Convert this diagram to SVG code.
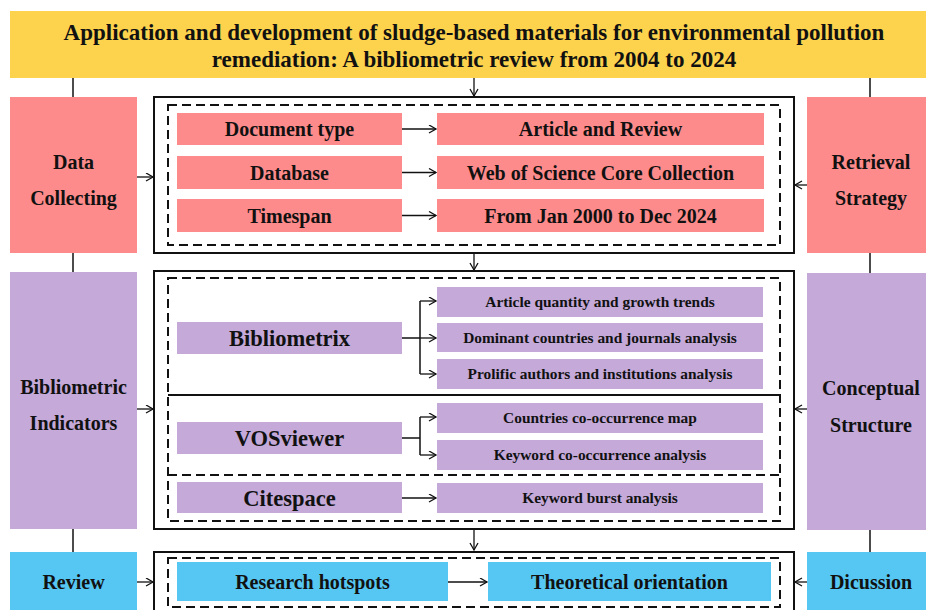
<svg xmlns="http://www.w3.org/2000/svg" width="926" height="610" viewBox="0 0 926 610">
<style>
text{font-family:"Liberation Serif","Times New Roman",serif;font-weight:bold;fill:#111;text-anchor:middle}
.t{font-size:23px}
.m{font-size:20px}
.b{font-size:22.5px}
.s{font-size:15.4px}
.red{fill:#FE8B8B}
.pur{fill:#C4A9D9}
.blu{fill:#56C7F2}
.frame{fill:none;stroke:#111;stroke-width:2}
.dash{fill:none;stroke:#111;stroke-width:2;stroke-dasharray:9 5}
.ln{fill:none;stroke:#111;stroke-width:1.5}
.ar{fill:none;stroke:#111;stroke-width:1.3;marker-end:url(#ah)}
</style>
<defs>
<marker id="ah" markerUnits="userSpaceOnUse" markerWidth="10" markerHeight="10" refX="8" refY="4.5" orient="auto">
<path d="M1,0.5 L8,4.5 L1,8.5" fill="none" stroke="#111" stroke-width="1.3"/>
</marker>
</defs>
<rect width="926" height="610" fill="#fff"/>
<g id="connectors">
<line class="ln" x1="73" y1="78" x2="73" y2="610"/>
<line class="ln" x1="870" y1="78" x2="870" y2="610"/>
<line class="ar" x1="474" y1="78" x2="474" y2="96"/>
<line class="ar" x1="474" y1="254" x2="474" y2="270"/>
<line class="ar" x1="474" y1="530" x2="474" y2="550"/>
<line class="ar" x1="137" y1="177" x2="153" y2="177"/>
<line class="ar" x1="807" y1="185" x2="795" y2="185"/>
<line class="ar" x1="137" y1="409" x2="153" y2="409"/>
<line class="ar" x1="807" y1="409" x2="795" y2="409"/>
<line class="ar" x1="137" y1="582" x2="153" y2="582"/>
<line class="ar" x1="807" y1="582" x2="795" y2="582"/>
<line class="ar" x1="402" y1="129" x2="436" y2="129"/>
<line class="ar" x1="402" y1="172.5" x2="436" y2="172.5"/>
<line class="ar" x1="402" y1="215.5" x2="436" y2="215.5"/>
<path class="ln" d="M402,338 H420 M420,301 V374"/>
<line class="ar" x1="420" y1="301" x2="436" y2="301"/>
<line class="ar" x1="420" y1="338" x2="436" y2="338"/>
<line class="ar" x1="420" y1="374" x2="436" y2="374"/>
<path class="ln" d="M402,438 H420 M420,417 V455"/>
<line class="ar" x1="420" y1="417" x2="436" y2="417"/>
<line class="ar" x1="420" y1="455" x2="436" y2="455"/>
<line class="ar" x1="402" y1="498" x2="436" y2="498"/>
<line class="ar" x1="448" y1="582" x2="487" y2="582"/>
</g>
<g id="title">
<rect x="10" y="11" width="916" height="67" fill="#FDD34E"/>
<text class="t" x="474" y="40">Application and development of sludge-based materials for environmental pollution</text>
<text class="t" x="474" y="67">remediation: A bibliometric review from 2004 to 2024</text>
</g>
<g id="frames">
<rect class="frame" x="154" y="97" width="640" height="156"/>
<rect class="dash" x="168" y="105" width="612" height="140"/>
<rect class="frame" x="154" y="271" width="640" height="258"/>
<rect class="dash" x="168" y="278" width="612" height="243"/>
<line x1="168" y1="395" x2="780" y2="395" stroke="#111" stroke-width="2"/>
<line class="dash" x1="168" y1="475" x2="780" y2="475"/>
<rect class="frame" x="154" y="552" width="640" height="70"/>
<rect class="dash" x="168" y="558" width="612" height="49"/>
</g>
<g id="data-collecting"><rect class="red" x="10" y="97" width="127" height="156"/><text class="m" x="73.5" y="169">Data</text><text class="m" x="73.5" y="205">Collecting</text></g>
<g id="retrieval-strategy"><rect class="red" x="807" y="97" width="119" height="156"/><text class="m" x="871" y="169">Retrieval</text><text class="m" x="871" y="205">Strategy</text></g>
<g id="document-type"><rect class="red" x="177" y="113" width="225" height="32"/><text class="m" x="289.5" y="136">Document type</text></g>
<g id="article-review"><rect class="red" x="437" y="113" width="327" height="32"/><text class="m" x="600.5" y="136">Article and Review</text></g>
<g id="database"><rect class="red" x="177" y="156" width="225" height="33"/><text class="m" x="289.5" y="179.5">Database</text></g>
<g id="wos"><rect class="red" x="437" y="156" width="327" height="33"/><text class="m" x="600.5" y="179.5">Web of Science Core Collection</text></g>
<g id="timespan"><rect class="red" x="177" y="199" width="225" height="33"/><text class="m" x="289.5" y="222.5">Timespan</text></g>
<g id="from-jan"><rect class="red" x="437" y="199" width="327" height="33"/><text class="m" x="600.5" y="222.5">From Jan 2000 to Dec 2024</text></g>
<g id="bibliometric-indicators"><rect class="pur" x="10" y="272" width="127" height="257"/><text class="m" x="73.5" y="394">Bibliometric</text><text class="m" x="73.5" y="430">Indicators</text></g>
<g id="conceptual-structure"><rect class="pur" x="807" y="273" width="119" height="257"/><text class="m" x="871" y="395">Conceptual</text><text class="m" x="871" y="432">Structure</text></g>
<g id="bibliometrix"><rect class="pur" x="177" y="322" width="225" height="32"/><text class="b" x="289.5" y="346">Bibliometrix</text></g>
<g id="vosviewer"><rect class="pur" x="177" y="422" width="225" height="32"/><text class="b" x="289.5" y="446">VOSviewer</text></g>
<g id="citespace"><rect class="pur" x="177" y="482" width="225" height="31"/><text class="b" x="289.5" y="505.5">Citespace</text></g>
<g id="article-quantity"><rect class="pur" x="437" y="287" width="326" height="30"/><text class="s" x="600" y="307">Article quantity and growth trends</text></g>
<g id="dominant"><rect class="pur" x="437" y="323" width="326" height="29"/><text class="s" x="600" y="342.5">Dominant countries and journals analysis</text></g>
<g id="prolific"><rect class="pur" x="437" y="359" width="326" height="30"/><text class="s" x="600" y="379">Prolific authors and institutions analysis</text></g>
<g id="countries"><rect class="pur" x="437" y="403" width="326" height="30"/><text class="s" x="600" y="423">Countries co-occurrence map</text></g>
<g id="keyword-cooc"><rect class="pur" x="437" y="440" width="326" height="30"/><text class="s" x="600" y="460">Keyword co-occurrence analysis</text></g>
<g id="keyword-burst"><rect class="pur" x="437" y="483" width="326" height="30"/><text class="s" x="600" y="503">Keyword burst analysis</text></g>
<g id="review"><rect class="blu" x="10" y="552" width="127" height="70"/><text class="m" x="73.5" y="589">Review</text></g>
<g id="dicussion"><rect class="blu" x="807" y="552" width="119" height="70"/><text class="m" x="871" y="589">Dicussion</text></g>
<g id="research-hotspots"><rect class="blu" x="177" y="562" width="271" height="39"/><text class="m" x="312.5" y="589">Research hotspots</text></g>
<g id="theoretical-orientation"><rect class="blu" x="488" y="562" width="283" height="39"/><text class="m" x="629.5" y="589">Theoretical orientation</text></g>
</svg>
